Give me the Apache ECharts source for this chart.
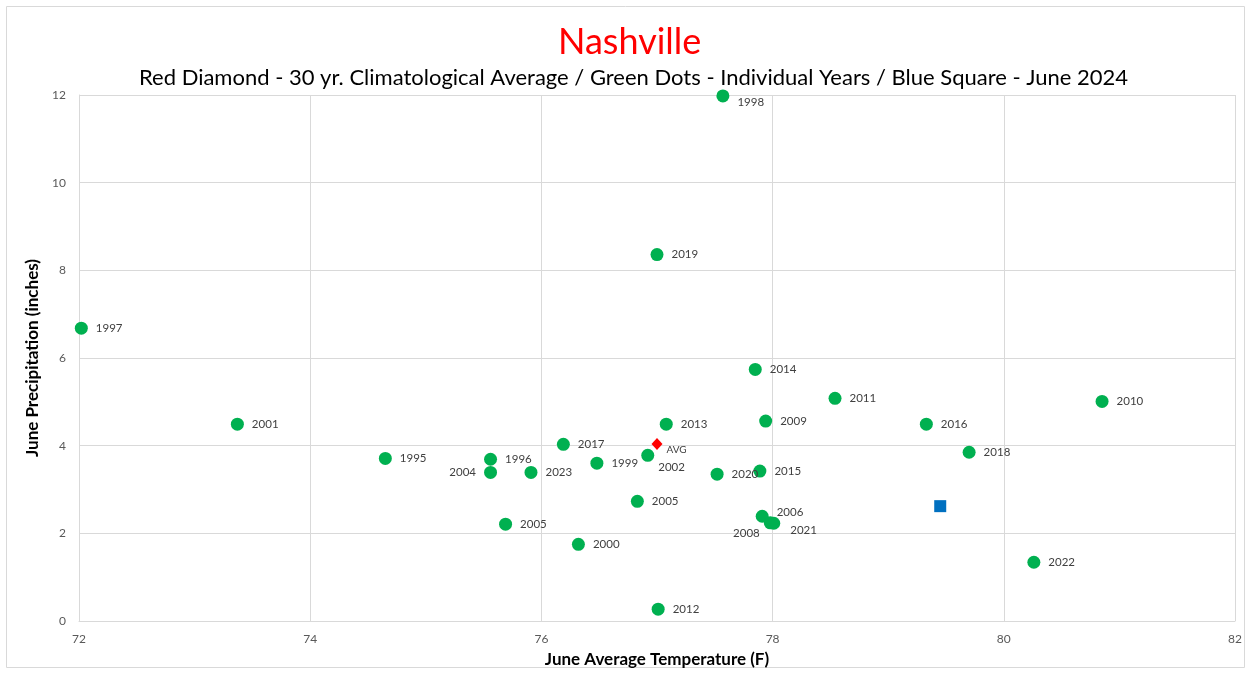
<!DOCTYPE html>
<html><head><meta charset="utf-8">
<script src="https://cdn.jsdelivr.net/npm/echarts@6/dist/echarts.min.js"></script>
<style>html,body{margin:0;padding:0;background:#fff}#c{width:1251px;height:673px}</style>
</head><body><div id="c"></div>
<script>
const yearLabels = ['1997','2001','1995','1996','2004','2005','2023','2017','1999','2000','2005','2002','2019','2012','2013','1998','2020','2014','2009','2015','2006','2008','2021','2011','2016','2018','2010','2022'];
const yearTemps  = [72.02,73.37,74.65,75.56,75.56,75.69,75.91,76.19,76.48,76.32,76.83,76.92,77.00,77.01,77.08,77.57,77.52,77.85,77.94,77.89,77.91,77.98,78.01,78.54,79.33,79.70,80.85,80.26];
const yearPrecip = [6.68,4.49,3.71,3.69,3.39,2.21,3.39,4.03,3.60,1.75,2.73,3.78,8.36,0.27,4.49,11.98,3.35,5.74,4.56,3.42,2.39,2.24,2.23,5.08,4.49,3.85,5.01,1.34];
const avgTemp = [77.0];
const avgPrecip = [4.04];
const currentTemp = [79.45];
const currentPrecip = [2.62];
const xTicks = [72,74,76,78,80,82];
const yTicks = [0,2,4,6,8,10,12];

// label placement (style only)
const labelStyle = {
  '2004': {position:'left', distance:8},
  '2008': {position:'left', distance:4, offset:[0,10]},
  '2002': {position:'right', distance:4, offset:[0,12]},
  '2021': {position:'right', distance:10, offset:[0,7]},
  '2006': {position:'right', distance:8, offset:[0,-4]},
  '1998': {position:'right', distance:8, offset:[0,6]}
};

const greenData = yearTemps.map((t,i)=>{
  const d = {value:[t, yearPrecip[i]], name: yearLabels[i]};
  let ls = labelStyle[yearLabels[i]];
  if (ls) d.label = ls;
  return d;
});

const chart = echarts.init(document.getElementById('c'));
const axisLbl = {color:'#595959', fontSize:12, fontFamily:'Lato, "Open Sans", sans-serif'};
chart.setOption({
  animation:false,
  textStyle:{fontFamily:'Lato, "Open Sans", sans-serif'},
  title:[
    {text:'Nashville', left:553, top:19, textStyle:{color:'#ff0000', fontSize:36, fontWeight:'normal', fontFamily:'Lato, sans-serif'}},
    {text:'Red Diamond - 30 yr. Climatological Average / Green Dots - Individual Years / Blue Square - June 2024', left:134, top:62, textStyle:{color:'#000', fontSize:22, fontWeight:'normal', fontFamily:'Lato, sans-serif'}}
  ],
  graphic:[{type:'rect', shape:{x:6.5,y:6.5,width:1238,height:661}, style:{fill:'none', stroke:'#d9d9d9', lineWidth:1}, silent:true}],
  grid:{left:79, right:16, top:95, bottom:52, containLabel:false},
  xAxis:{type:'value', min:72, max:82, interval:2,
    name:'June Average Temperature (F)', nameLocation:'middle', nameGap:30,
    nameTextStyle:{fontSize:17, fontWeight:'bold', color:'#000', fontFamily:'Lato, sans-serif'},
    axisLine:{show:true, lineStyle:{color:'#d9d9d9'}}, axisTick:{show:false},
    splitLine:{show:true, lineStyle:{color:'#d9d9d9'}},
    axisLabel:Object.assign({margin:12}, axisLbl)},
  yAxis:{type:'value', min:0, max:12, interval:2,
    name:'June Precipitation (inches)', nameLocation:'middle', nameGap:34, nameRotate:90,
    nameTextStyle:{fontSize:17, fontWeight:'bold', color:'#000', fontFamily:'Lato, sans-serif'},
    axisLine:{show:true, lineStyle:{color:'#d9d9d9'}}, axisTick:{show:false},
    splitLine:{show:true, lineStyle:{color:'#d9d9d9'}},
    axisLabel:Object.assign({margin:13}, axisLbl)},
  series:[
    {type:'scatter', name:'Years', symbol:'circle', symbolSize:13, itemStyle:{color:'#00b050', opacity:1},
     data:greenData,
     label:{show:true, position:'right', distance:8, formatter:p=>p.name, color:'#404040', fontSize:11.5, fontFamily:'Lato, "Open Sans", sans-serif'}},
    {type:'scatter', name:'AVG', symbol:'diamond', symbolSize:[11,12], itemStyle:{color:'#ff0000', opacity:1},
     data:avgTemp.map((t,i)=>({value:[t, avgPrecip[i]], name:'AVG'})),
     label:{show:true, position:'right', distance:4, offset:[0,6], formatter:'AVG', color:'#404040', fontSize:10, fontFamily:'Lato, sans-serif'}},
    {type:'scatter', name:'2024', symbol:'rect', symbolSize:12, itemStyle:{color:'#0070c0', opacity:1},
     data:currentTemp.map((t,i)=>[t, currentPrecip[i]])}
  ]
});
</script></body></html>
